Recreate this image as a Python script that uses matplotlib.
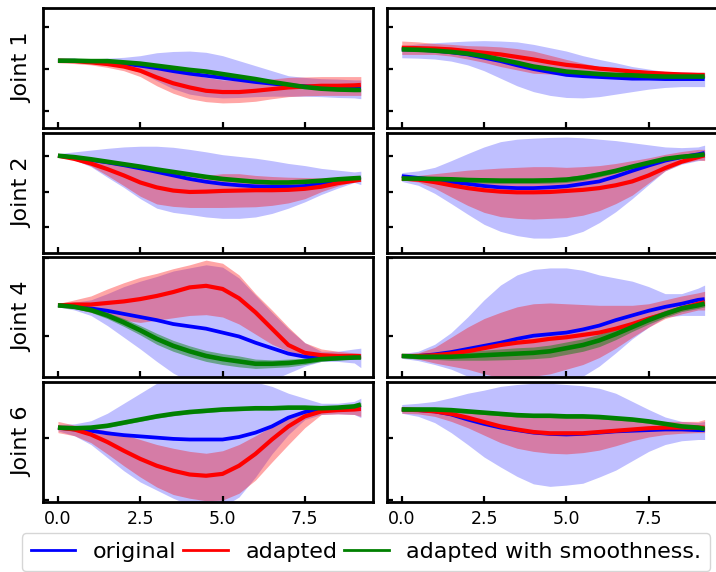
import numpy as np
import matplotlib
matplotlib.use('Agg')
import matplotlib.pyplot as plt
from matplotlib.lines import Line2D

# Time samples (same for all joints)
t = [0, 0.5, 1, 1.5, 2, 2.5, 3, 3.5, 4, 4.5, 5, 5.5, 6, 6.5, 7, 7.5, 8, 8.5, 9, 9.2]

# ---------------- Joint 1 ----------------
j1a_orig = [0.2, 0.2, 0.18, 0.16, 0.13, 0.08, 0.02, -0.05, -0.11, -0.16, -0.21, -0.26, -0.31, -0.35, -0.39, -0.41, -0.43, -0.44, -0.44, -0.44]
j1a_orig_lo = [0.16, 0.16, 0.15, 0.11, 0.04, -0.08, -0.28, -0.47, -0.6, -0.66, -0.69, -0.68, -0.66, -0.65, -0.65, -0.65, -0.66, -0.68, -0.69, -0.71]
j1a_orig_hi = [0.24, 0.24, 0.24, 0.26, 0.28, 0.32, 0.39, 0.42, 0.43, 0.4, 0.32, 0.2, 0.08, -0.04, -0.16, -0.2, -0.23, -0.24, -0.26, -0.26]
j1a_adap = [0.2, 0.19, 0.16, 0.12, 0.06, -0.04, -0.2, -0.34, -0.44, -0.52, -0.55, -0.55, -0.52, -0.48, -0.44, -0.42, -0.4, -0.4, -0.39, -0.38]
j1a_adap_lo = [0.15, 0.13, 0.1, 0.04, -0.04, -0.18, -0.4, -0.58, -0.71, -0.78, -0.81, -0.8, -0.77, -0.71, -0.66, -0.64, -0.63, -0.63, -0.63, -0.63]
j1a_adap_hi = [0.26, 0.24, 0.22, 0.19, 0.16, 0.11, 0.04, -0.04, -0.12, -0.2, -0.26, -0.28, -0.28, -0.24, -0.2, -0.19, -0.18, -0.18, -0.18, -0.18]
j1a_smooth = [0.2, 0.2, 0.19, 0.19, 0.16, 0.13, 0.08, 0.03, -0.02, -0.06, -0.12, -0.18, -0.24, -0.31, -0.37, -0.43, -0.47, -0.49, -0.5, -0.5]
j1a_smooth_sd = [0.02, 0.02, 0.02, 0.03, 0.03, 0.03, 0.04, 0.04, 0.04, 0.04, 0.04, 0.04, 0.04, 0.04, 0.04, 0.03, 0.03, 0.03, 0.03, 0.03]

j1b_orig = [0.47, 0.46, 0.44, 0.4, 0.35, 0.27, 0.19, 0.09, 0.0, -0.07, -0.14, -0.17, -0.19, -0.21, -0.23, -0.23, -0.24, -0.24, -0.24, -0.24]
j1b_orig_lo = [0.27, 0.26, 0.24, 0.19, 0.1, -0.04, -0.22, -0.4, -0.54, -0.63, -0.68, -0.69, -0.66, -0.6, -0.54, -0.48, -0.44, -0.42, -0.42, -0.42]
j1b_orig_hi = [0.56, 0.6, 0.63, 0.65, 0.67, 0.68, 0.67, 0.65, 0.59, 0.51, 0.43, 0.32, 0.23, 0.15, 0.06, 0.0, -0.06, -0.07, -0.08, -0.08]
j1b_adap = [0.51, 0.5, 0.49, 0.47, 0.43, 0.39, 0.35, 0.29, 0.23, 0.16, 0.1, 0.06, 0.01, -0.02, -0.06, -0.09, -0.11, -0.13, -0.14, -0.14]
j1b_adap_lo = [0.35, 0.35, 0.35, 0.31, 0.24, 0.16, 0.06, -0.02, -0.1, -0.12, -0.14, -0.16, -0.18, -0.2, -0.22, -0.22, -0.22, -0.21, -0.2, -0.2]
j1b_adap_hi = [0.67, 0.65, 0.61, 0.59, 0.56, 0.55, 0.53, 0.49, 0.43, 0.33, 0.23, 0.14, 0.06, 0.02, -0.02, -0.04, -0.06, -0.07, -0.08, -0.08]
j1b_smooth = [0.47, 0.46, 0.44, 0.41, 0.37, 0.31, 0.23, 0.15, 0.06, 0.0, -0.06, -0.09, -0.12, -0.14, -0.15, -0.17, -0.18, -0.18, -0.18, -0.18]
j1b_smooth_sd = [0.02, 0.02, 0.03, 0.03, 0.03, 0.04, 0.04, 0.04, 0.04, 0.04, 0.04, 0.04, 0.04, 0.03, 0.03, 0.03, 0.03, 0.03, 0.03, 0.03]

# ---------------- Joint 2 ----------------
j2a_orig = [1.02, 0.97, 0.9, 0.83, 0.75, 0.66, 0.56, 0.46, 0.36, 0.28, 0.22, 0.18, 0.15, 0.14, 0.14, 0.16, 0.24, 0.31, 0.36, 0.38]
j2a_orig_lo = [1.02, 0.9, 0.71, 0.41, 0.12, -0.2, -0.47, -0.59, -0.65, -0.72, -0.76, -0.76, -0.72, -0.62, -0.47, -0.29, -0.08, 0.1, 0.26, 0.2]
j2a_orig_hi = [1.08, 1.13, 1.18, 1.23, 1.27, 1.29, 1.29, 1.26, 1.2, 1.13, 1.05, 1.0, 0.95, 0.88, 0.8, 0.74, 0.66, 0.61, 0.56, 0.58]
j2a_adap = [1.02, 0.93, 0.8, 0.64, 0.46, 0.26, 0.12, 0.03, -0.01, 0.0, 0.02, 0.03, 0.04, 0.04, 0.05, 0.08, 0.14, 0.24, 0.31, 0.34]
j2a_adap_lo = [1.02, 0.9, 0.73, 0.46, 0.17, -0.13, -0.35, -0.42, -0.45, -0.45, -0.45, -0.44, -0.43, -0.39, -0.32, -0.2, 0.0, 0.16, 0.29, 0.29]
j2a_adap_hi = [1.05, 1.0, 0.95, 0.85, 0.75, 0.68, 0.61, 0.53, 0.46, 0.46, 0.51, 0.51, 0.46, 0.43, 0.41, 0.4, 0.39, 0.4, 0.41, 0.41]
j2a_smooth = [1.02, 0.98, 0.92, 0.85, 0.78, 0.71, 0.63, 0.56, 0.49, 0.42, 0.36, 0.32, 0.28, 0.26, 0.26, 0.28, 0.31, 0.35, 0.38, 0.39]
j2a_smooth_sd = [0.02, 0.02, 0.03, 0.03, 0.04, 0.04, 0.05, 0.05, 0.05, 0.05, 0.05, 0.05, 0.04, 0.04, 0.04, 0.04, 0.03, 0.03, 0.03, 0.03]

j2b_orig = [0.44, 0.39, 0.34, 0.27, 0.22, 0.16, 0.12, 0.1, 0.1, 0.12, 0.15, 0.22, 0.29, 0.43, 0.59, 0.74, 0.88, 0.98, 1.06, 1.1]
j2b_orig_lo = [0.29, 0.18, -0.05, -0.34, -0.64, -0.93, -1.13, -1.25, -1.32, -1.32, -1.27, -1.13, -0.88, -0.57, -0.2, 0.2, 0.59, 0.78, 0.88, 0.9]
j2b_orig_hi = [0.54, 0.59, 0.69, 0.88, 1.08, 1.27, 1.42, 1.49, 1.52, 1.54, 1.55, 1.53, 1.49, 1.45, 1.39, 1.33, 1.27, 1.25, 1.27, 1.32]
j2b_adap = [0.37, 0.34, 0.27, 0.18, 0.1, 0.04, 0.0, -0.02, -0.02, -0.01, 0.02, 0.05, 0.1, 0.18, 0.29, 0.46, 0.67, 0.85, 0.98, 1.03]
j2b_adap_lo = [0.34, 0.27, 0.1, -0.15, -0.39, -0.59, -0.71, -0.76, -0.78, -0.76, -0.74, -0.67, -0.54, -0.34, -0.1, 0.25, 0.59, 0.8, 0.9, 0.88]
j2b_adap_hi = [0.41, 0.46, 0.51, 0.56, 0.61, 0.64, 0.67, 0.69, 0.71, 0.71, 0.69, 0.71, 0.74, 0.8, 0.88, 0.96, 1.06, 1.14, 1.2, 1.2]
j2b_smooth = [0.37, 0.37, 0.36, 0.35, 0.33, 0.32, 0.31, 0.31, 0.31, 0.32, 0.34, 0.4, 0.49, 0.59, 0.71, 0.82, 0.93, 0.99, 1.03, 1.06]
j2b_smooth_sd = [0.02, 0.03, 0.04, 0.06, 0.07, 0.08, 0.08, 0.08, 0.08, 0.08, 0.08, 0.08, 0.07, 0.06, 0.05, 0.04, 0.04, 0.03, 0.03, 0.03]

# ---------------- Joint 4 ----------------
j4a_orig = [0.39, 0.38, 0.35, 0.32, 0.28, 0.24, 0.2, 0.15, 0.12, 0.09, 0.04, -0.01, -0.09, -0.16, -0.23, -0.27, -0.29, -0.29, -0.28, -0.27]
j4a_orig_lo = [0.37, 0.33, 0.26, 0.13, -0.02, -0.17, -0.33, -0.48, -0.59, -0.65, -0.67, -0.66, -0.63, -0.57, -0.48, -0.39, -0.33, -0.33, -0.35, -0.41]
j4a_orig_hi = [0.41, 0.43, 0.46, 0.54, 0.63, 0.7, 0.76, 0.83, 0.87, 0.91, 0.88, 0.74, 0.52, 0.3, 0.09, -0.09, -0.2, -0.2, -0.17, -0.16]
j4a_adap = [0.39, 0.4, 0.4, 0.42, 0.44, 0.47, 0.51, 0.56, 0.62, 0.64, 0.6, 0.48, 0.3, 0.09, -0.12, -0.22, -0.25, -0.26, -0.26, -0.26]
j4a_adap_lo = [0.37, 0.35, 0.3, 0.25, 0.2, 0.17, 0.2, 0.23, 0.26, 0.27, 0.24, 0.15, 0.02, -0.11, -0.2, -0.25, -0.28, -0.29, -0.29, -0.29]
j4a_adap_hi = [0.41, 0.46, 0.51, 0.6, 0.68, 0.75, 0.8, 0.86, 0.91, 0.97, 0.93, 0.78, 0.54, 0.33, 0.11, -0.09, -0.17, -0.2, -0.22, -0.23]
j4a_smooth = [0.39, 0.37, 0.33, 0.26, 0.17, 0.07, -0.04, -0.13, -0.2, -0.26, -0.3, -0.33, -0.36, -0.36, -0.35, -0.33, -0.3, -0.29, -0.28, -0.28]
j4a_smooth_sd = [0.01, 0.02, 0.03, 0.04, 0.05, 0.06, 0.07, 0.07, 0.07, 0.07, 0.07, 0.07, 0.06, 0.05, 0.05, 0.04, 0.03, 0.02, 0.02, 0.02]

j4b_orig = [-0.26, -0.26, -0.24, -0.21, -0.17, -0.13, -0.09, -0.04, 0.0, 0.02, 0.04, 0.08, 0.13, 0.2, 0.26, 0.32, 0.37, 0.41, 0.46, 0.47]
j4b_orig_lo = [-0.29, -0.32, -0.37, -0.43, -0.52, -0.59, -0.63, -0.67, -0.67, -0.65, -0.61, -0.52, -0.39, -0.22, -0.04, 0.11, 0.24, 0.26, 0.26, 0.26]
j4b_orig_hi = [-0.23, -0.2, -0.11, 0.04, 0.24, 0.46, 0.65, 0.78, 0.85, 0.87, 0.87, 0.84, 0.78, 0.74, 0.7, 0.63, 0.54, 0.54, 0.61, 0.65]
j4b_adap = [-0.26, -0.26, -0.25, -0.23, -0.2, -0.16, -0.12, -0.09, -0.07, -0.04, -0.02, 0.01, 0.04, 0.09, 0.15, 0.22, 0.28, 0.35, 0.41, 0.43]
j4b_adap_lo = [-0.28, -0.3, -0.35, -0.39, -0.43, -0.49, -0.54, -0.54, -0.52, -0.49, -0.43, -0.37, -0.28, -0.16, -0.02, 0.11, 0.22, 0.28, 0.33, 0.33]
j4b_adap_hi = [-0.24, -0.22, -0.15, -0.02, 0.11, 0.22, 0.3, 0.37, 0.41, 0.42, 0.41, 0.4, 0.39, 0.39, 0.39, 0.41, 0.46, 0.51, 0.55, 0.57]
j4b_smooth = [-0.26, -0.27, -0.27, -0.27, -0.26, -0.25, -0.24, -0.23, -0.22, -0.2, -0.16, -0.12, -0.06, 0.02, 0.11, 0.2, 0.28, 0.35, 0.39, 0.41]
j4b_smooth_sd = [0.02, 0.03, 0.035, 0.045, 0.055, 0.065, 0.07, 0.075, 0.075, 0.08, 0.08, 0.08, 0.08, 0.07, 0.055, 0.05, 0.045, 0.04, 0.04, 0.04]

# ---------------- Joint 6 ----------------
j6a_orig = [0.16, 0.13, 0.11, 0.07, 0.04, 0.02, 0.0, -0.02, -0.03, -0.03, -0.03, 0.01, 0.08, 0.18, 0.32, 0.41, 0.45, 0.46, 0.47, 0.48]
j6a_orig_lo = [0.11, 0.03, -0.11, -0.32, -0.53, -0.71, -0.84, -0.97, -1.08, -1.13, -1.11, -0.95, -0.63, -0.26, 0.05, 0.29, 0.37, 0.38, 0.37, 0.32]
j6a_orig_hi = [0.21, 0.22, 0.27, 0.39, 0.55, 0.71, 0.87, 0.95, 1.0, 1.03, 1.0, 0.97, 0.89, 0.82, 0.71, 0.63, 0.55, 0.55, 0.58, 0.63]
j6a_adap = [0.16, 0.13, 0.05, -0.07, -0.21, -0.34, -0.45, -0.53, -0.59, -0.61, -0.58, -0.45, -0.26, -0.03, 0.18, 0.34, 0.42, 0.44, 0.45, 0.46]
j6a_adap_lo = [0.08, 0.03, -0.08, -0.26, -0.45, -0.63, -0.79, -0.91, -0.97, -1.01, -1.0, -0.89, -0.68, -0.39, -0.11, 0.16, 0.37, 0.38, 0.37, 0.34]
j6a_adap_hi = [0.26, 0.2, 0.16, 0.11, 0.05, -0.03, -0.11, -0.17, -0.22, -0.25, -0.21, -0.11, 0.03, 0.18, 0.34, 0.45, 0.5, 0.5, 0.5, 0.5]
j6a_smooth = [0.16, 0.15, 0.16, 0.19, 0.24, 0.29, 0.34, 0.38, 0.41, 0.43, 0.45, 0.46, 0.47, 0.47, 0.48, 0.48, 0.47, 0.48, 0.5, 0.53]
j6a_smooth_sd = [0.02, 0.02, 0.02, 0.03, 0.03, 0.03, 0.03, 0.03, 0.03, 0.03, 0.03, 0.03, 0.03, 0.03, 0.03, 0.03, 0.03, 0.03, 0.03, 0.03]

j6b_orig = [0.45, 0.44, 0.42, 0.37, 0.29, 0.22, 0.16, 0.12, 0.08, 0.06, 0.05, 0.06, 0.08, 0.1, 0.11, 0.12, 0.13, 0.13, 0.12, 0.12]
j6b_orig_lo = [0.39, 0.34, 0.24, 0.08, -0.11, -0.31, -0.47, -0.62, -0.74, -0.78, -0.76, -0.73, -0.63, -0.52, -0.37, -0.22, -0.11, -0.05, -0.03, -0.03]
j6b_orig_hi = [0.53, 0.55, 0.58, 0.64, 0.71, 0.76, 0.82, 0.85, 0.87, 0.87, 0.85, 0.83, 0.79, 0.71, 0.58, 0.45, 0.33, 0.26, 0.24, 0.26]
j6b_adap = [0.45, 0.44, 0.42, 0.38, 0.32, 0.25, 0.18, 0.13, 0.09, 0.07, 0.07, 0.07, 0.09, 0.11, 0.13, 0.15, 0.16, 0.16, 0.16, 0.16]
j6b_adap_lo = [0.39, 0.38, 0.34, 0.26, 0.16, 0.04, -0.08, -0.17, -0.22, -0.25, -0.26, -0.24, -0.2, -0.13, -0.05, 0.01, 0.05, 0.07, 0.08, 0.08]
j6b_adap_hi = [0.5, 0.49, 0.48, 0.47, 0.45, 0.42, 0.39, 0.38, 0.37, 0.36, 0.36, 0.35, 0.34, 0.33, 0.31, 0.28, 0.26, 0.26, 0.26, 0.29]
j6b_smooth = [0.45, 0.45, 0.45, 0.44, 0.42, 0.4, 0.38, 0.36, 0.35, 0.35, 0.34, 0.34, 0.33, 0.31, 0.29, 0.26, 0.22, 0.18, 0.16, 0.14]
j6b_smooth_sd = [0.02, 0.02, 0.02, 0.03, 0.03, 0.03, 0.03, 0.03, 0.03, 0.03, 0.03, 0.03, 0.03, 0.03, 0.03, 0.03, 0.03, 0.03, 0.03, 0.03]

joint_names = ['Joint 1', 'Joint 2', 'Joint 4', 'Joint 6']
row_ylims = [(-1.41, 1.46), (-1.73, 1.68), (-0.53, 1.01), (-1.03, 0.89)]
legend_labels = ['original', 'adapted', 'adapted with smoothness.']

panels = [
    [(j1a_orig, j1a_orig_lo, j1a_orig_hi, j1a_adap, j1a_adap_lo, j1a_adap_hi, j1a_smooth, j1a_smooth_sd),
     (j1b_orig, j1b_orig_lo, j1b_orig_hi, j1b_adap, j1b_adap_lo, j1b_adap_hi, j1b_smooth, j1b_smooth_sd)],
    [(j2a_orig, j2a_orig_lo, j2a_orig_hi, j2a_adap, j2a_adap_lo, j2a_adap_hi, j2a_smooth, j2a_smooth_sd),
     (j2b_orig, j2b_orig_lo, j2b_orig_hi, j2b_adap, j2b_adap_lo, j2b_adap_hi, j2b_smooth, j2b_smooth_sd)],
    [(j4a_orig, j4a_orig_lo, j4a_orig_hi, j4a_adap, j4a_adap_lo, j4a_adap_hi, j4a_smooth, j4a_smooth_sd),
     (j4b_orig, j4b_orig_lo, j4b_orig_hi, j4b_adap, j4b_adap_lo, j4b_adap_hi, j4b_smooth, j4b_smooth_sd)],
    [(j6a_orig, j6a_orig_lo, j6a_orig_hi, j6a_adap, j6a_adap_lo, j6a_adap_hi, j6a_smooth, j6a_smooth_sd),
     (j6b_orig, j6b_orig_lo, j6b_orig_hi, j6b_adap, j6b_adap_lo, j6b_adap_hi, j6b_smooth, j6b_smooth_sd)],
]

W, H = 716, 572
fig = plt.figure(figsize=(W / 100, H / 100), dpi=100)

col_left = [42.8, 386.6]
ax_w = 330.2
row_top = [8, 132.5, 257, 382]
ax_h = 120

for r in range(4):
    for c in range(2):
        ax = fig.add_axes([col_left[c] / W, 1 - (row_top[r] + ax_h) / H, ax_w / W, ax_h / H])
        orig, orig_lo, orig_hi, adap, adap_lo, adap_hi, smooth, smooth_sd = panels[r][c]
        sm = np.array(smooth)
        sd = np.array(smooth_sd)

        # bande di confidenza
        ax.fill_between(t, orig_lo, orig_hi, color='blue', alpha=0.25, linewidth=0)
        ax.fill_between(t, adap_lo, adap_hi, color='red', alpha=0.35, linewidth=0)
        ax.fill_between(t, sm - sd, sm + sd, color='green', alpha=0.45, linewidth=0)

        # medie
        ax.plot(t, orig, color='blue', linewidth=2.7, solid_capstyle='butt')
        ax.plot(t, adap, color='red', linewidth=3.0, solid_capstyle='butt')
        ax.plot(t, smooth, color='green', linewidth=3.3, solid_capstyle='butt')

        ax.set_xticks([0, 2.5, 5, 7.5])
        ax.set_yticks([-1, 0, 1])
        ax.set_yticklabels([])
        # limiti dopo i tick, altrimenti set_yticks li allarga
        ax.set_xlim(-0.46, 9.57)
        ax.set_ylim(*row_ylims[r])
        ax.tick_params(direction='in', length=4, width=1.6, labelsize=12.5, pad=6)
        if r < 3:
            ax.set_xticklabels([])
        for s in ax.spines.values():
            s.set_linewidth(2.0)
        if c == 0:
            ax.set_ylabel(joint_names[r], fontsize=16, labelpad=2)

handles = [Line2D([], [], color=col, linewidth=2) for col in ['blue', 'red', 'green']]
fig.legend(handles, legend_labels, loc='lower left', bbox_to_anchor=(22 / W, 1 / H),
           ncol=3, fontsize=16, columnspacing=0.3, handletextpad=0.8,
           handlelength=2.0, borderaxespad=0, frameon=True, framealpha=0.8, edgecolor='#cccccc')

fig.savefig('out.png', dpi=100)
